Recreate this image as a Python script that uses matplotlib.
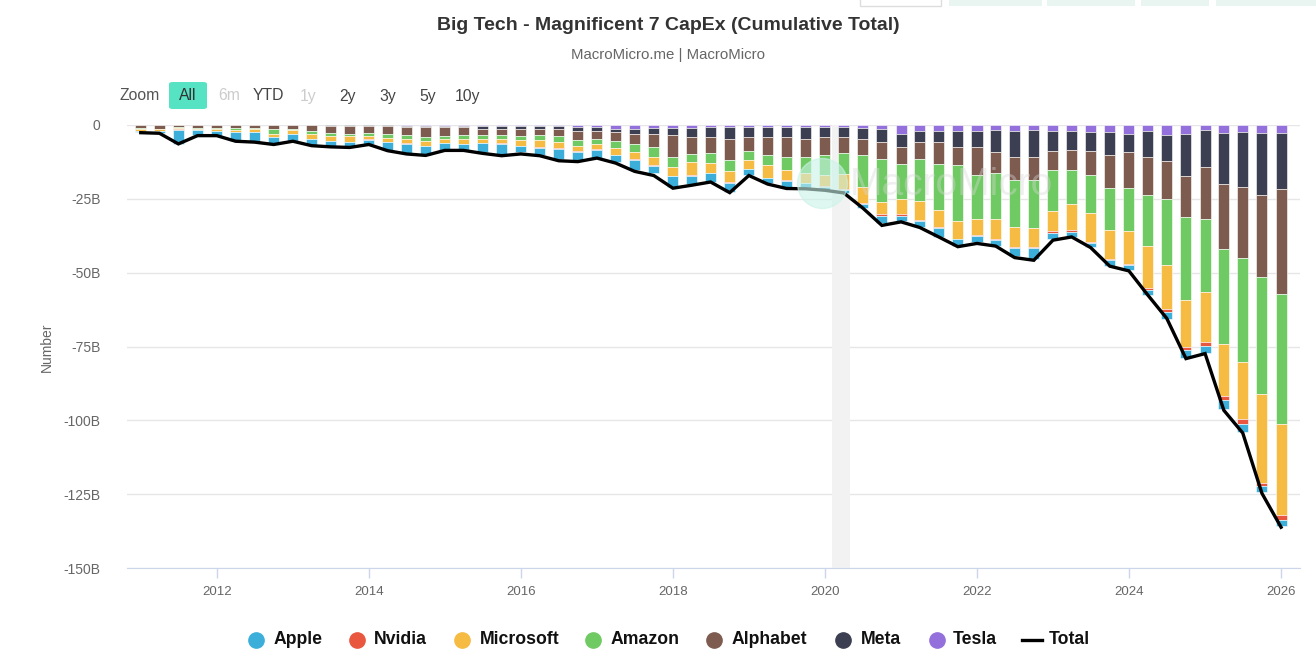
import matplotlib
matplotlib.use("Agg")
import matplotlib.pyplot as plt
from matplotlib.lines import Line2D
from matplotlib.patches import Rectangle, FancyBboxPatch
import numpy as np
import pandas as pd

plt.rcParams["font.family"] = ["Liberation Sans", "DejaVu Sans"]

# quarterly capex, billions USD (shown as outflows, i.e. negative)
quarters = pd.date_range("2010-12-31", periods=61, freq="QE")

apple = [0.4, 0.8, 4.8, 1.7, 1.7, 3.0, 3.3, 2.2, 2.2, 2.0,
         1.8, 1.7, 1.4, 2.7, 3.4, 3.0, 2.2, 2.1, 3.2, 3.7,
         2.1, 2.5, 3.4, 3.1, 2.8, 2.3, 3.6, 2.4, 3.7, 2.8,
         2.8, 3.0, 1.9, 1.9, 2.1, 1.6, 1.1, 1.0, 1.6, 2.7,
         1.7, 2.0, 3.0, 2.5, 2.0, 1.9, 2.7, 3.5, 2.1, 1.7,
         1.6, 1.8, 1.6, 1.5, 2.6, 2.6, 2.5, 3.2, 2.6, 2.0, 1.9]
nvidia = [0.05, 0.05, 0.05, 0.05, 0.05, 0.1, 0.1, 0.1, 0.1, 0.1,
          0.1, 0.1, 0.1, 0.1, 0.1, 0.1, 0.2, 0.1, 0.1, 0.1,
          0.1, 0.1, 0.2, 0.2, 0.2, 0.2, 0.2, 0.3, 0.2, 0.2,
          0.1, 0.2, 0.1, 0.1, 0.4, 0.3, 0.2, 0.2, 0.3, 0.45,
          0.5, 0.45, 0.35, 0.1, 0.5, 0.45, 0.35, 0.45, 0.45, 0.55,
          0.35, 0.45, 0.45, 0.8, 0.8, 1.2, 1.1, 1.4, 1.7, 1.1, 1.7]
microsoft = [0.8, 0.4, 0.4, 0.45, 0.4, 0.7, 0.9, 0.8, 1.4, 1.7,
             1.6, 1.9, 1.1, 1.2, 1.4, 1.7, 1.3, 1.7, 1.2, 1.6,
             2.1, 2.4, 2.1, 1.8, 1.6, 2.1, 2.3, 2.6, 3.1, 4.4,
             3.6, 3.7, 3.1, 4.2, 3.3, 3.4, 3.8, 5.1, 5.2, 4.0,
             5.1, 6.4, 5.8, 6.0, 5.5, 6.8, 6.6, 6.3, 6.9, 8.8,
             9.8, 9.7, 11.2, 14.2, 15.0, 15.9, 16.9, 17.4, 19.6, 30.0, 30.8]
amazon = [0.1, 0.3, 0.4, 0.35, 0.4, 0.5, 0.4, 2.0, 0.4, 0.8,
          1.1, 0.8, 1.0, 1.3, 1.3, 1.4, 1.0, 1.3, 1.4, 1.2,
          1.2, 1.7, 2.0, 2.0, 1.7, 2.6, 2.8, 3.4, 3.1, 2.9,
          3.3, 3.7, 2.9, 3.4, 4.5, 5.4, 6.8, 7.1, 11.0, 14.7,
          11.9, 14.2, 15.5, 19.0, 14.8, 15.7, 16.0, 16.5, 13.9, 11.5,
          12.8, 14.5, 14.7, 17.2, 22.4, 27.9, 24.8, 32.2, 35.2, 39.6, 44.1]
alphabet = [1.1, 1.2, 0.7, 1.0, 1.1, 1.1, 1.1, 1.2, 1.2, 2.1,
            2.5, 2.6, 2.5, 2.7, 2.8, 3.2, 3.1, 2.7, 2.0, 2.0,
            2.6, 2.3, 2.6, 3.2, 2.8, 3.0, 3.4, 4.6, 7.5, 5.5,
            5.5, 7.2, 4.7, 6.2, 6.8, 5.9, 6.1, 5.6, 5.4, 5.6,
            5.9, 5.6, 7.3, 6.2, 9.6, 6.8, 7.8, 7.8, 6.3, 6.7,
            8.0, 11.0, 12.0, 13.1, 12.9, 13.9, 17.6, 22.0, 23.8, 27.8, 35.6]
meta = [0.0, 0.0, 0.0, 0.0, 0.0, 0.0, 0.0, 0.0, 0.0, 0.0,
        0.2, 0.3, 0.3, 0.4, 0.4, 0.4, 0.3, 0.3, 1.1, 1.1,
        0.9, 0.9, 0.9, 1.1, 1.4, 1.1, 1.7, 2.0, 2.6, 3.3,
        3.2, 4.2, 3.6, 3.4, 3.3, 4.1, 3.4, 3.2, 3.8, 4.5,
        4.3, 4.0, 4.0, 5.4, 5.4, 7.6, 8.9, 9.0, 7.0, 6.7,
        6.4, 7.9, 6.2, 8.5, 8.8, 14.5, 12.5, 17.3, 18.7, 21.1, 19.0]
tesla = [0.0, 0.0, 0.0, 0.0, 0.0, 0.0, 0.0, 0.0, 0.0, 0.0,
         0.0, 0.0, 0.0, 0.0, 0.3, 0.3, 0.3, 0.3, 0.3, 0.3,
         0.3, 0.3, 0.3, 0.8, 0.6, 1.2, 1.4, 0.9, 0.9, 0.9,
         0.7, 0.6, 0.6, 0.6, 0.7, 0.7, 0.7, 0.7, 0.9, 1.4,
         3.0, 1.9, 1.9, 1.9, 1.9, 1.7, 1.9, 1.7, 1.9, 1.9,
         2.5, 2.3, 3.0, 2.2, 3.3, 2.9, 1.8, 2.7, 2.4, 2.7, 2.7]
total = [2.6, 2.8, 6.4, 3.6, 3.6, 5.5, 5.8, 6.6, 5.5, 7.0,
         7.4, 7.6, 6.6, 8.7, 9.8, 10.3, 8.6, 8.6, 9.6, 10.4,
         9.8, 10.4, 12.1, 12.4, 11.2, 12.9, 15.7, 17.1, 21.4, 20.4,
         19.3, 22.9, 17.1, 20.0, 21.5, 21.6, 22.1, 23.0, 28.1, 34.0,
         32.8, 34.7, 37.9, 41.2, 40.1, 41.0, 44.9, 45.8, 39.0, 37.9,
         41.5, 47.8, 49.4, 57.6, 65.5, 79.1, 77.4, 96.6, 104.3, 124.7, 136.2]

names = ["Apple", "Nvidia", "Microsoft", "Amazon", "Alphabet", "Meta", "Tesla"]
colors = ["#3bafda", "#e9573f", "#f6bb42", "#70ca63", "#7d5b4f", "#3b3f51", "#9370db"]
series = [apple, nvidia, microsoft, amazon, alphabet, meta, tesla]

W, H = 1316, 668
fig = plt.figure(figsize=(W / 100, H / 100), dpi=100)
ax = fig.add_axes([127 / W, 1 - 568 / H, 1173 / W, 443 / H])

# recession band
ax.axvspan(pd.Timestamp("2020-02-03"), pd.Timestamp("2020-04-30"), color="#f2f2f2", zorder=1, lw=0)

# stacked bars, last series nearest to zero
bottom = np.zeros(len(quarters))
for vals, col in reversed(list(zip(series, colors))):
    v = -np.array(vals)
    ax.bar(quarters, v, width=53, bottom=bottom, color=col, edgecolor="white",
           linewidth=0.4, zorder=3)
    bottom += v

ax.plot(quarters, -np.array(total), color="black", lw=2.4, zorder=5, solid_joinstyle="miter")

ax.set_xlim(pd.Timestamp("2010-10-26"), pd.Timestamp("2026-04-01"))
ax.set_ylim(-150, 0)

yt = list(range(-150, 1, 25))
ax.set_yticks(yt)
ax.set_yticklabels([("0" if v == 0 else f"{v}B") for v in yt], color="#666666", fontsize=10)
ax.tick_params(axis="y", length=0, pad=19)

years = list(range(2012, 2027, 2))
ax.set_xticks([pd.Timestamp(f"{y}-01-01") for y in years])
ax.set_xticklabels([str(y) for y in years], color="#666666", fontsize=9.5)
ax.tick_params(axis="x", length=7.2, width=1, color="#ccd6eb", pad=6)

ax.grid(axis="y", color="#e6e6e6", lw=1, zorder=0)
ax.set_axisbelow(True)
for s in ["top", "right", "left"]:
    ax.spines[s].set_visible(False)
ax.spines["bottom"].set_color("#ccd6eb")
ax.spines["bottom"].set_zorder(6)

# watermark
fig.add_artist(Line2D([822 / W], [1 - 183 / H], marker="o", markersize=36, color="#c9f3e8",
                      alpha=0.6, lw=0, transform=fig.transFigure, zorder=6))
fig.text(850 / W, 1 - 185 / H, "MacroMicro", fontsize=28, color="#d8d8d8",
         alpha=0.4, va="center", ha="left", zorder=6)

fig.text(47 / W, 1 - 347 / H, "Number", rotation=90, color="#666666", fontsize=10,
         ha="center", va="center")

# titles
fig.text(668 / W, 1 - 25 / H, "Big Tech - Magnificent 7 CapEx (Cumulative Total)",
         fontsize=14, fontweight="bold", color="#333333", ha="center", va="center")
fig.text(668 / W, 1 - 55 / H, "MacroMicro.me | MacroMicro", fontsize=10.8,
         color="#666666", ha="center", va="center")

# range selector
fig.patches.append(FancyBboxPatch((169 / W, 1 - 109 / H), 38 / W, 27 / H,
                                  boxstyle="round,pad=0,rounding_size=0.003",
                                  transform=fig.transFigure, color="#55e3c3", lw=0))
btns = [("Zoom", 140, "#555555"), ("All", 188, "#333333"), ("6m", 229, "#cccccc"),
        ("YTD", 268, "#444444"), ("1y", 308, "#cccccc"), ("2y", 348, "#444444"),
        ("3y", 388, "#444444"), ("5y", 428, "#444444"), ("10y", 468, "#444444")]
for label, xc, col in btns:
    fig.text(xc / W, 1 - 96 / H, label, fontsize=11.3, color=col, ha="center", va="center")

# partially visible toolbar buttons at the top edge
fig.patches.append(Rectangle((860 / W, 1 - 6 / H), 81 / W, 8 / H, transform=fig.transFigure,
                             facecolor="white", edgecolor="#dddddd", lw=1))
for x0, x1 in [(949, 1042), (1047, 1135), (1141, 1209), (1216, 1316)]:
    fig.patches.append(Rectangle((x0 / W, 1 - 6 / H), (x1 - x0) / W, 8 / H,
                                 transform=fig.transFigure, facecolor="#e8f5f1", lw=0))

# legend
ly = 1 - 640 / H
marker_x = [256, 357, 462, 593, 714, 843, 937]
text_x = [274, 374, 480, 611, 732, 861, 953]
for name, col, mx, tx in zip(names, colors, marker_x, text_x):
    fig.add_artist(Line2D([mx / W], [ly], marker="o", markersize=11, color=col,
                          transform=fig.transFigure, lw=0))
    fig.text(tx / W, ly, name, fontsize=12.7, fontweight="bold", color="#111111",
             ha="left", va="center")
fig.add_artist(Line2D([1022 / W, 1042 / W], [ly, ly], color="black", lw=2.4,
                      transform=fig.transFigure))
fig.text(1049 / W, ly, "Total", fontsize=12.7, fontweight="bold", color="#111111",
         ha="left", va="center")

fig.savefig("out.png", dpi=100)
